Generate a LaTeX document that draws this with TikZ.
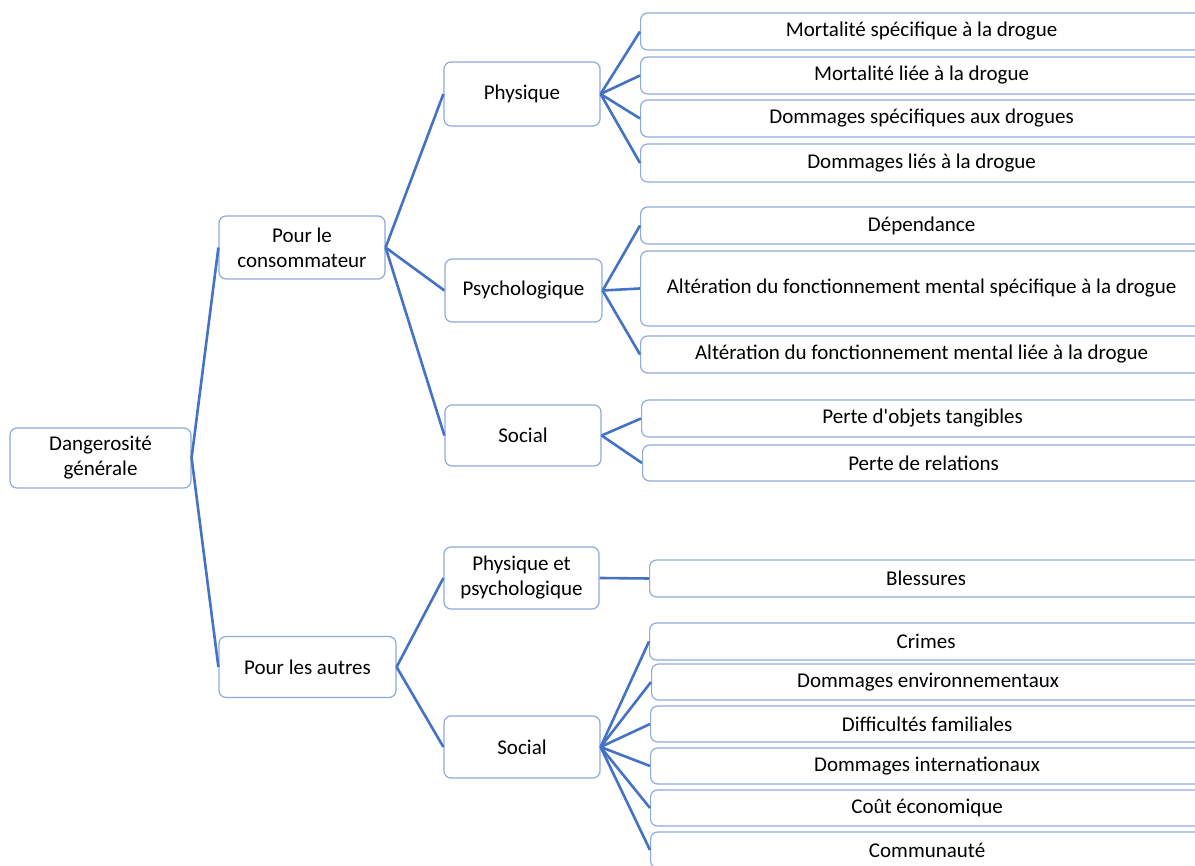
\documentclass[tikz,border=0pt]{standalone}
\usepackage{fontspec}
\setmainfont{Carlito}

\definecolor{linkblue}{RGB}{68,114,196}
\definecolor{boxblue}{RGB}{143,170,220}

\begin{document}
\begin{tikzpicture}[x=1pt, y=-1pt,
	box/.style={draw=boxblue, line width=1.2pt, rounded corners=7pt, fill=white, align=center, inner sep=0pt, font=\fontsize{21}{25}\selectfont},
	leaf/.style={box, anchor=west, minimum width=562pt, minimum height=37pt},
	leafb/.style={leaf, minimum width=553pt, minimum height=36pt},
	link/.style={draw=linkblue, line width=2.6pt}]
	\useasboundingbox (0,0) rectangle (1195,866);
	\clip (0,0) rectangle (1195,866);

	% Nodes {root, level 1, level 2}
	\node [box, minimum width=181pt, minimum height=60pt]	(root)		at (100.5,458)	{Dangerosité\\générale};
	\node [box, minimum width=166pt, minimum height=63pt]	(cons)		at (302,247.5)	{Pour le\\consommateur};
	\node [box, minimum width=177pt, minimum height=61pt]	(autres)	at (307.5,667)	{Pour les autres};
	\node [box, minimum width=156pt, minimum height=64pt]	(phys)		at (522,94)		{Physique};
	\node [box, minimum width=157pt, minimum height=63pt]	(psy)		at (523.5,290.5)	{Psychologique};
	\node [box, minimum width=156pt, minimum height=61pt]	(soc)		at (523,435.5)	{Social};
	\node [box, minimum width=155pt, minimum height=62pt]	(physpsy)	at (521.5,578)	{Physique et\\psychologique};
	\node [box, minimum width=156pt, minimum height=62pt]	(socaut)	at (522,747)	{Social};

	% Leaves
	\node [leaf]	(mspec)		at (640,31.5)	{Mortalité spécifique à la drogue};
	\node [leaf]	(mlie)		at (640,75.5)	{Mortalité liée à la drogue};
	\node [leaf]	(dspec)		at (640,118.5)	{Dommages spécifiques aux drogues};
	\node [leaf, minimum height=38pt]	(dlie)	at (640,163)	{Dommages liés à la drogue};
	\node [leaf]	(dep)		at (640,225.5)	{Dépendance};
	\node [leaf, minimum height=75pt]	(altspec)	at (640,288.5)	{Altération du fonctionnement mental spécifique à la drogue};
	\node [leaf]	(altlie)	at (640,354.5)	{Altération du fonctionnement mental liée à la drogue};
	\node [leaf]	(objets)	at (641,418.5)	{Perte d\textquotesingle objets tangibles};
	\node [leaf, minimum height=36pt]	(relations)	at (642,463)	{Perte de relations};
	\node [leafb, minimum height=37pt]	(blessures)	at (649,578.5)	{Blessures};
	\node [leafb, minimum height=37pt]	(crimes)	at (649,641.5)	{Crimes};
	\node [leafb]	(env)		at (651,682)	{Dommages environnementaux};
	\node [leafb]	(fam)		at (650,724)	{Difficultés familiales};
	\node [leafb]	(inter)		at (650,766)	{Dommages internationaux};
	\node [leafb]	(eco)		at (650,808)	{Coût économique};
	\node [leafb]	(comm)		at (650,850)	{Communauté};

	% Paths
	\path [link]	(root.east) edge (cons.west);
	\path [link]	(root.east) edge (autres.west);
	\path [link]	(cons.east) edge (phys.west);
	\path [link]	(cons.east) edge (psy.west);
	\path [link]	(cons.east) edge (soc.west);
	\path [link]	(autres.east) edge (physpsy.west);
	\path [link]	(autres.east) edge (socaut.west);
	\foreach \leafname in {mspec,mlie,dspec,dlie}
		\path [link]	(phys.east) edge (\leafname.west);
	\foreach \leafname in {dep,altspec,altlie}
		\path [link]	(psy.east) edge (\leafname.west);
	\foreach \leafname in {objets,relations}
		\path [link]	(soc.east) edge (\leafname.west);
	\path [link]	(physpsy.east) edge (blessures.west);
	\foreach \leafname in {crimes,env,fam,inter,eco,comm}
		\path [link]	(socaut.east) edge (\leafname.west);

\end{tikzpicture}
\end{document}
